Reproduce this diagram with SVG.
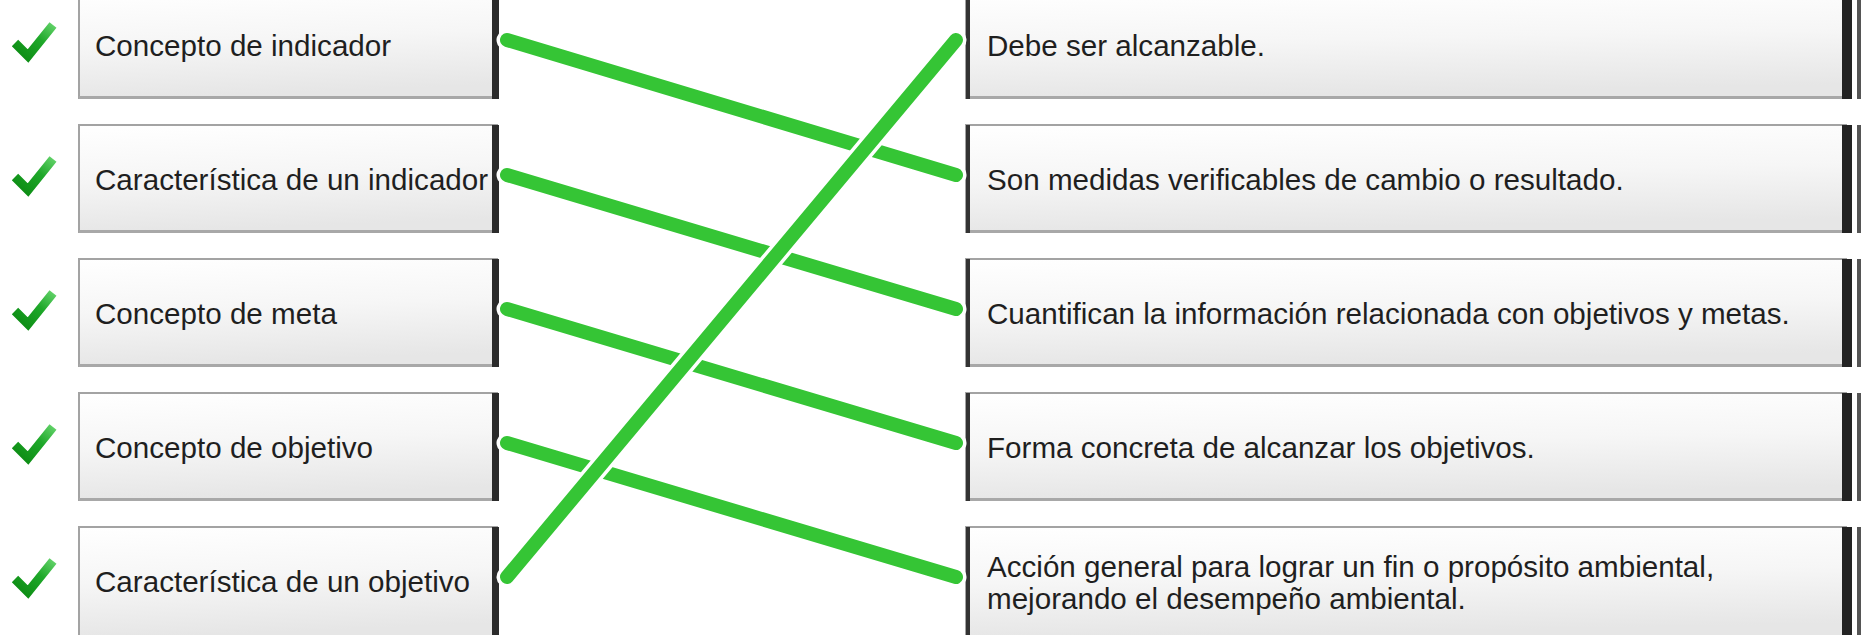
<svg xmlns="http://www.w3.org/2000/svg" width="1864" height="635" viewBox="0 0 1864 635">
<defs>
<linearGradient id="boxfill" x1="0" y1="0" x2="0.15" y2="1">
<stop offset="0" stop-color="#ffffff"/>
<stop offset="0.5" stop-color="#f6f6f6"/>
<stop offset="1" stop-color="#e6e6e6"/>
</linearGradient>
<linearGradient id="checkfill" x1="0" y1="1" x2="1" y2="0">
<stop offset="0" stop-color="#0b8a12"/>
<stop offset="0.6" stop-color="#1fa82a"/>
<stop offset="1" stop-color="#5fd066"/>
</linearGradient>
<symbol id="check" overflow="visible">
<path d="M15,-2 L28,11 L53,-20" fill="none" stroke="url(#checkfill)" stroke-width="9" stroke-linejoin="miter" stroke-linecap="butt"/>
</symbol>
</defs>
<style>
.bg{fill:url(#boxfill);stroke:#a3a3a3;stroke-width:2}
.bot{fill:#a8a8a8}
.lbar{fill:#2b2b2b}
.rbarl{fill:#333333}
.rbarr{fill:#232323}
.rthin{fill:#555555}
.txt{font-family:"Liberation Sans",Arial,Helvetica,sans-serif;font-size:29.6px;fill:#1f1f1f}
.halo{stroke:#ffffff;stroke-width:21;stroke-linecap:round;fill:none}
.wire{stroke:#35c535;stroke-width:14;stroke-linecap:round;fill:none}
</style>
<rect x="0" y="0" width="1864" height="635" fill="#ffffff"/>

<g id="left1">
<use href="#check" x="0" y="45"/>
<rect class="bg" x="79" y="-9" width="418" height="107"/>
<rect class="bot" x="79" y="96" width="418" height="3"/>
<rect class="lbar" x="492" y="-9" width="7" height="108"/>
<text class="txt" x="95" y="56">Concepto de indicador</text>
</g>
<g id="left2">
<use href="#check" x="0" y="179"/>
<rect class="bg" x="79" y="125" width="418" height="107"/>
<rect class="bot" x="79" y="230" width="418" height="3"/>
<rect class="lbar" x="492" y="125" width="7" height="108"/>
<text class="txt" x="95" y="190">Característica de un indicador</text>
</g>
<g id="left3">
<use href="#check" x="0" y="313"/>
<rect class="bg" x="79" y="259" width="418" height="107"/>
<rect class="bot" x="79" y="364" width="418" height="3"/>
<rect class="lbar" x="492" y="259" width="7" height="108"/>
<text class="txt" x="95" y="324">Concepto de meta</text>
</g>
<g id="left4">
<use href="#check" x="0" y="447"/>
<rect class="bg" x="79" y="393" width="418" height="107"/>
<rect class="bot" x="79" y="498" width="418" height="3"/>
<rect class="lbar" x="492" y="393" width="7" height="108"/>
<text class="txt" x="95" y="458">Concepto de objetivo</text>
</g>
<g id="left5">
<use href="#check" x="0" y="581"/>
<rect class="bg" x="79" y="527" width="418" height="110"/>
<rect class="lbar" x="492" y="527" width="7" height="110"/>
<text class="txt" x="95" y="592">Característica de un objetivo</text>
</g>

<g id="right1">
<rect class="bg" x="966" y="-9" width="880" height="107"/>
<rect class="bot" x="966" y="96" width="880" height="3"/>
<rect class="rbarl" x="966" y="-9" width="4" height="108"/>
<rect class="rbarr" x="1842" y="-9" width="10" height="108"/>
<rect class="rthin" x="1857" y="-9" width="4" height="108"/>
<text class="txt" x="987" y="56">Debe ser alcanzable.</text>
</g>
<g id="right2">
<rect class="bg" x="966" y="125" width="880" height="107"/>
<rect class="bot" x="966" y="230" width="880" height="3"/>
<rect class="rbarl" x="966" y="125" width="4" height="108"/>
<rect class="rbarr" x="1842" y="125" width="10" height="108"/>
<rect class="rthin" x="1857" y="125" width="4" height="108"/>
<text class="txt" x="987" y="190">Son medidas verificables de cambio o resultado.</text>
</g>
<g id="right3">
<rect class="bg" x="966" y="259" width="880" height="107"/>
<rect class="bot" x="966" y="364" width="880" height="3"/>
<rect class="rbarl" x="966" y="259" width="4" height="108"/>
<rect class="rbarr" x="1842" y="259" width="10" height="108"/>
<rect class="rthin" x="1857" y="259" width="4" height="108"/>
<text class="txt" x="987" y="324">Cuantifican la información relacionada con objetivos y metas.</text>
</g>
<g id="right4">
<rect class="bg" x="966" y="393" width="880" height="107"/>
<rect class="bot" x="966" y="498" width="880" height="3"/>
<rect class="rbarl" x="966" y="393" width="4" height="108"/>
<rect class="rbarr" x="1842" y="393" width="10" height="108"/>
<rect class="rthin" x="1857" y="393" width="4" height="108"/>
<text class="txt" x="987" y="458">Forma concreta de alcanzar los objetivos.</text>
</g>
<g id="right5">
<rect class="bg" x="966" y="527" width="880" height="110"/>
<rect class="rbarl" x="966" y="527" width="4" height="110"/>
<rect class="rbarr" x="1842" y="527" width="10" height="110"/>
<rect class="rthin" x="1857" y="527" width="4" height="110"/>
<text class="txt" x="987" y="577">Acción general para lograr un fin o propósito ambiental,</text>
<text class="txt" x="987" y="609">mejorando el desempeño ambiental.</text>
</g>

<g id="connectors">
<line class="halo" x1="507" y1="40" x2="956" y2="175"/>
<line class="wire" x1="507" y1="40" x2="956" y2="175"/>
<line class="halo" x1="507" y1="175" x2="956" y2="309"/>
<line class="wire" x1="507" y1="175" x2="956" y2="309"/>
<line class="halo" x1="507" y1="309" x2="956" y2="443"/>
<line class="wire" x1="507" y1="309" x2="956" y2="443"/>
<line class="halo" x1="507" y1="443" x2="956" y2="577"/>
<line class="wire" x1="507" y1="443" x2="956" y2="577"/>
<line class="halo" x1="507" y1="577" x2="956" y2="40"/>
<line class="wire" x1="507" y1="577" x2="956" y2="40"/>
</g>
</svg>
